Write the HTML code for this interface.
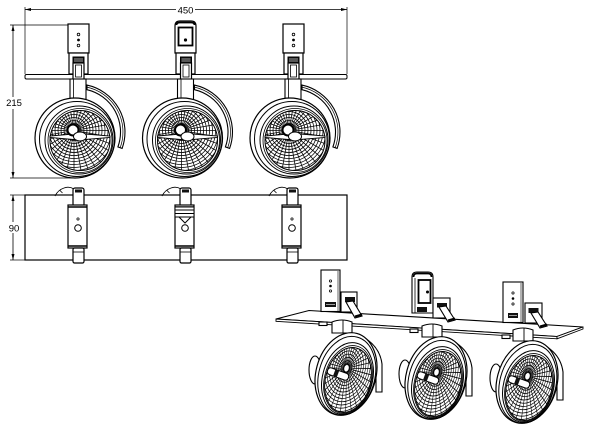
<!DOCTYPE html>
<html><head><meta charset="utf-8"><style>
html,body{margin:0;padding:0;background:#fff;}
svg{display:block;}
text{font-family:"Liberation Sans",sans-serif;}
</style></head><body>
<svg width="600" height="427" viewBox="0 0 600 427" xmlns="http://www.w3.org/2000/svg">
<defs>
<clipPath id="rc"><circle r="30"/></clipPath>
<g id="refl">
 <g clip-path="url(#rc)" fill="none" stroke="#000" stroke-width="0.75">
  <g transform="translate(-6,-10)">
   <circle r="4"/><circle r="7"/><circle r="10"/><circle r="13"/><circle r="16"/><circle r="19"/>
   <circle r="22"/><circle r="25"/><circle r="28"/><circle r="31"/><circle r="34"/><circle r="37"/><circle r="40"/><circle r="43"/>
   <path d="M3,0H45"/><path d="M3,0H45" transform="rotate(10)"/><path d="M3,0H45" transform="rotate(20)"/>
   <path d="M3,0H45" transform="rotate(30)"/><path d="M3,0H45" transform="rotate(40)"/><path d="M3,0H45" transform="rotate(50)"/>
   <path d="M3,0H45" transform="rotate(60)"/><path d="M3,0H45" transform="rotate(70)"/><path d="M3,0H45" transform="rotate(80)"/>
   <path d="M3,0H45" transform="rotate(90)"/><path d="M3,0H45" transform="rotate(100)"/><path d="M3,0H45" transform="rotate(110)"/>
   <path d="M3,0H45" transform="rotate(120)"/><path d="M3,0H45" transform="rotate(130)"/><path d="M3,0H45" transform="rotate(140)"/>
   <path d="M3,0H45" transform="rotate(150)"/><path d="M3,0H45" transform="rotate(160)"/><path d="M3,0H45" transform="rotate(170)"/>
   <path d="M3,0H45" transform="rotate(180)"/><path d="M3,0H45" transform="rotate(190)"/><path d="M3,0H45" transform="rotate(200)"/>
   <path d="M3,0H45" transform="rotate(210)"/><path d="M3,0H45" transform="rotate(220)"/><path d="M3,0H45" transform="rotate(230)"/>
   <path d="M3,0H45" transform="rotate(240)"/><path d="M3,0H45" transform="rotate(250)"/><path d="M3,0H45" transform="rotate(260)"/>
   <path d="M3,0H45" transform="rotate(270)"/><path d="M3,0H45" transform="rotate(280)"/><path d="M3,0H45" transform="rotate(290)"/>
   <path d="M3,0H45" transform="rotate(300)"/><path d="M3,0H45" transform="rotate(310)"/><path d="M3,0H45" transform="rotate(320)"/>
   <path d="M3,0H45" transform="rotate(330)"/><path d="M3,0H45" transform="rotate(340)"/><path d="M3,0H45" transform="rotate(350)"/>
  </g>
 </g>
</g>

<g id="tb" stroke="#000" fill="#fff">
 <rect x="68" y="24" width="21" height="29" stroke-width="1.2"/>
 <circle cx="78.5" cy="34.5" r="1.3" fill="none" stroke-width="0.8"/>
 <circle cx="78.5" cy="40" r="1.4" fill="#000" stroke="none"/>
 <circle cx="78.5" cy="45.5" r="1.3" fill="none" stroke-width="0.8"/>
 <rect x="69" y="53" width="19" height="21" stroke-width="1.2"/>
</g>
<g id="clipf" stroke="#000">
 <rect x="73" y="57" width="11" height="6" fill="#111" stroke-width="1"/>
 <line x1="74" y1="59" x2="83" y2="59" stroke="#fff" stroke-width="0.6"/>
 <line x1="74" y1="61" x2="83" y2="61" stroke="#fff" stroke-width="0.6"/>
 <rect x="73" y="63" width="11" height="17" fill="#fff" stroke-width="1.2"/>
 <rect x="75.5" y="65" width="6" height="12" fill="none" stroke-width="0.8"/>
</g>
<g id="fl" stroke="#000" fill="#fff">
 <rect x="70" y="79" width="16" height="22" stroke-width="1.1"/>
 <line x1="73.5" y1="79" x2="73.5" y2="99" stroke-width="0.8"/>
 <path d="M87,85.1 A48,48 0 0 1 122.1,148.4 L117.9,146.9 A43.5,43.5 0 0 0 87,89.7 Z" stroke-width="1.1"/>
 <path d="M87,87.1 A46,46 0 0 1 120.2,147.7" fill="none" stroke-width="0.7"/>
 <circle cx="75" cy="138" r="40" stroke-width="1.2"/>
 <circle cx="77" cy="139" r="37.5" fill="none" stroke-width="1"/>
 <circle cx="79" cy="140" r="34" fill="none" stroke-width="1"/>
 <circle cx="80" cy="140.5" r="32" fill="none" stroke-width="0.8"/>
 <use href="#refl" transform="translate(80,140.5)"/>
 <circle cx="80" cy="140.5" r="30" fill="none" stroke-width="1"/>
 <path d="M50,136 L79,133.5 L110,136 L110,137.5 L79,140 L50,137.5 Z" stroke-width="0.9"/>
 <circle cx="73" cy="130" r="5.5" stroke-width="2"/>
 <ellipse cx="80" cy="136.5" rx="6.5" ry="4.5" stroke-width="1"/>
</g>
<g id="sv" stroke="#000" fill="#fff">
 <path d="M55,196 Q58,190 64,188 Q69,186 74,189" fill="none" stroke-width="0.9"/>
 <path d="M60,190.5 l2.5,2.5" fill="none" stroke-width="0.8"/>
 <rect x="73" y="188" width="11" height="18" rx="2" stroke-width="1.2"/>
 <rect x="75" y="189.5" width="7" height="3" fill="#111" stroke="none"/>
 <rect x="68" y="205" width="19" height="43" stroke-width="1.2"/>
 <line x1="68" y1="207" x2="87" y2="207" stroke-width="1.5"/>
 <line x1="68" y1="246" x2="87" y2="246" stroke-width="1.5"/>
 <rect x="73" y="248" width="11" height="15" rx="1.5" stroke-width="1.2"/>
 <line x1="73" y1="252" x2="84" y2="252" stroke-width="0.8"/>
 <circle cx="78" cy="228" r="3.3" fill="none" stroke-width="1"/>
</g>
<g id="il" stroke="#000" fill="#fff">
 <path d="M-14,-52 Q-4,-56 6,-52 V-41 H-14 Z" stroke-width="1.1"/>
 <line x1="-3" y1="-54" x2="-3" y2="-41" stroke-width="0.9"/>
 <path d="M4,-41 C22,-38 34,-26 36,-10 L36,18 L30,18 L30,-8 C28,-22 18,-32 2,-36 Z" stroke-width="1.1"/>
 <ellipse cx="-31" cy="-4" rx="6" ry="14" stroke-width="1.1"/>
 <ellipse rx="30" ry="42" transform="rotate(15)" stroke-width="1.2"/>
 <ellipse rx="28" ry="40" transform="translate(0.8,1.8) rotate(15)" fill="none" stroke-width="1"/>
 <ellipse rx="25" ry="36.5" transform="translate(1.5,4.5) rotate(15)" fill="none" stroke-width="1"/>
 <ellipse rx="23.5" ry="34.5" transform="translate(2,5.5) rotate(15)" fill="none" stroke-width="0.8"/>
 <use href="#refl" transform="translate(2,6) rotate(15) scale(0.75,1.1)"/>
 <ellipse rx="22.5" ry="33" transform="translate(2,6) rotate(15)" fill="none" stroke-width="1"/>
 <g transform="translate(-8,0) rotate(20)">
  <rect x="-11" y="-3.5" width="22" height="7" rx="3" stroke-width="1"/>
  <rect x="-4" y="-3.5" width="4" height="7" fill="#111" stroke="none"/>
 </g>
</g>
</defs>

<rect width="600" height="427" fill="#fff"/>

<g stroke="#000" fill="none" stroke-width="0.7">
 <line x1="25" y1="7" x2="25" y2="74"/>
 <line x1="347" y1="7" x2="347" y2="74"/>
 <line x1="25" y1="9.5" x2="347" y2="9.5" stroke-width="0.8"/>
 <line x1="10" y1="25" x2="68" y2="25"/>
 <line x1="10" y1="178" x2="76" y2="178"/>
 <line x1="13" y1="25" x2="13" y2="178" stroke-width="0.8"/>
</g>
<polygon points="25,9.5 31,8 31,11" fill="#000"/>
<polygon points="347,9.5 341,8 341,11" fill="#000"/>
<polygon points="13,25 11.5,31 14.5,31" fill="#000"/>
<polygon points="13,178 11.5,172 14.5,172" fill="#000"/>
<rect x="176" y="4" width="19" height="11" fill="#fff"/>
<text x="185.5" y="13.5" font-size="9.5" text-anchor="middle" fill="#000">450</text>
<rect x="4" y="97" width="19" height="12" fill="#fff"/>
<text x="14" y="106" font-size="9.5" text-anchor="middle" fill="#000">215</text>

<use href="#tb"/>
<use href="#tb" transform="translate(215,0)"/>
<g stroke="#000" fill="#fff">
 <path d="M175,53 V26 Q175,21 180,21 H191 Q196,21 196,26 V53 Z" stroke-width="1.2"/>
 <path d="M176.5,25 Q176.5,22.5 180,22.5 H191 Q194.5,22.5 194.5,25" fill="none" stroke-width="1.8"/>
 <rect x="178.5" y="27.5" width="14" height="18" fill="none" stroke-width="1.8"/>
 <circle cx="185.5" cy="40" r="1.6" fill="#000" stroke="none"/>
 <rect x="176" y="53" width="19" height="21" stroke-width="1.2"/>
</g>
<rect x="25" y="74.5" width="322" height="4.5" rx="1.5" fill="#fff" stroke="#000" stroke-width="1"/>
<use href="#clipf"/>
<use href="#clipf" transform="translate(107.5,0)"/>
<use href="#clipf" transform="translate(215,0)"/>
<use href="#fl"/>
<use href="#fl" transform="translate(107.5,0)"/>
<use href="#fl" transform="translate(215,0)"/>

<g stroke="#000" fill="none" stroke-width="0.7">
 <line x1="10" y1="195" x2="25" y2="195"/>
 <line x1="10" y1="260" x2="25" y2="260"/>
 <line x1="13" y1="195" x2="13" y2="260" stroke-width="0.8"/>
</g>
<polygon points="13,195 11.5,201 14.5,201" fill="#000"/>
<polygon points="13,260 11.5,254 14.5,254" fill="#000"/>
<rect x="6" y="222" width="16" height="11" fill="#fff"/>
<text x="14" y="231.5" font-size="9.5" text-anchor="middle" fill="#000">90</text>
<rect x="25" y="195" width="322" height="65" fill="#fff" stroke="#000" stroke-width="1.2"/>
<use href="#sv"/>
<use href="#sv" transform="translate(107,0)"/>
<use href="#sv" transform="translate(214,0)"/>
<circle cx="78" cy="219" r="1.1" fill="none" stroke="#000" stroke-width="0.8"/>
<circle cx="292" cy="219" r="1.1" fill="none" stroke="#000" stroke-width="0.8"/>
<g stroke="#000" fill="none">
 <rect x="175" y="207" width="19" height="10" fill="#fff" stroke-width="1"/>
 <line x1="175" y1="210" x2="194" y2="210" stroke-width="0.9"/>
 <line x1="175" y1="213.5" x2="194" y2="213.5" stroke-width="0.9"/>
 <path d="M179,217 L185,223 L191,217" stroke-width="1"/>
</g>

<g stroke="#000" stroke-width="1.1" fill="#fff">
 <polygon points="276,319 309,310.5 583,327 557,336.5"/>
 <polygon points="276,319 557,336.5 557,338.8 276,321.3" stroke-width="0.9"/>
 <polygon points="557,336.5 583,327 583,329 557,338.8" stroke-width="0.9"/>

 <rect x="321" y="270" width="19" height="41.5"/>
 <line x1="338" y1="271" x2="338" y2="311" stroke-width="0.6"/>
 <circle cx="330.5" cy="281" r="1.1" fill="none" stroke-width="0.8"/>
 <circle cx="330.5" cy="286" r="1.3" fill="#000" stroke="none"/>
 <circle cx="330.5" cy="291" r="1.1" fill="none" stroke-width="0.8"/>
 <rect x="325" y="302" width="11" height="5" fill="#111" stroke="none"/>
 <line x1="326" y1="304.5" x2="335" y2="304.5" stroke="#fff" stroke-width="0.6"/>
 <rect x="341" y="292" width="16" height="20"/>
 <rect x="345" y="297" width="10" height="5" fill="#111" stroke="none"/>
 <polygon points="346,302 353,301 362,316 355,318"/>
 <line x1="355" y1="316.5" x2="362" y2="314.5" stroke-width="2"/>

 <path d="M412,313 V277 Q412,272 417,272 H428 Q433,272 433,277 V313 Z"/>
 <path d="M413.5,277 Q413.5,273.5 417,273.5 H428 Q431.5,273.5 431.5,277" fill="none" stroke-width="1.8"/>
 <line x1="415" y1="278" x2="415" y2="313" stroke-width="0.8"/>
 <rect x="418.5" y="280" width="12" height="23" fill="none" stroke-width="1.8"/>
 <circle cx="427.5" cy="292" r="1.5" fill="#000" stroke="none"/>
 <rect x="417" y="307" width="10" height="5" fill="#111" stroke="none"/>
 <rect x="433" y="298" width="17" height="20"/>
 <rect x="437" y="303" width="10" height="4.5" fill="#111" stroke="none"/>
 <polygon points="439,307 446,306 455,320 448,322"/>
 <line x1="448" y1="320.5" x2="455" y2="318.5" stroke-width="2"/>

 <rect x="503" y="282" width="20" height="40.5"/>
 <line x1="521" y1="283" x2="521" y2="322" stroke-width="0.6"/>
 <circle cx="513" cy="293" r="1.1" fill="none" stroke-width="0.8"/>
 <circle cx="513" cy="298.5" r="1.3" fill="#000" stroke="none"/>
 <circle cx="513" cy="304" r="1.1" fill="none" stroke-width="0.8"/>
 <rect x="508" y="313" width="10" height="5" fill="#111" stroke="none"/>
 <line x1="509" y1="315.5" x2="517" y2="315.5" stroke="#fff" stroke-width="0.6"/>
 <rect x="525" y="303" width="17" height="20"/>
 <rect x="528.5" y="308" width="10" height="5" fill="#111" stroke="none"/>
 <polygon points="531,313 538,312 547,326 540,328"/>
 <line x1="540" y1="326.5" x2="547" y2="324.5" stroke-width="2"/>

 <rect x="319" y="322" width="8" height="3.5"/>
 <rect x="410" y="329" width="8" height="3.5"/>
 <rect x="502" y="335" width="8" height="3.5"/>
</g>
<use href="#il" transform="translate(346,374)"/>
<use href="#il" transform="translate(436,378)"/>
<use href="#il" transform="translate(527,382)"/>
</svg>
</body></html>
